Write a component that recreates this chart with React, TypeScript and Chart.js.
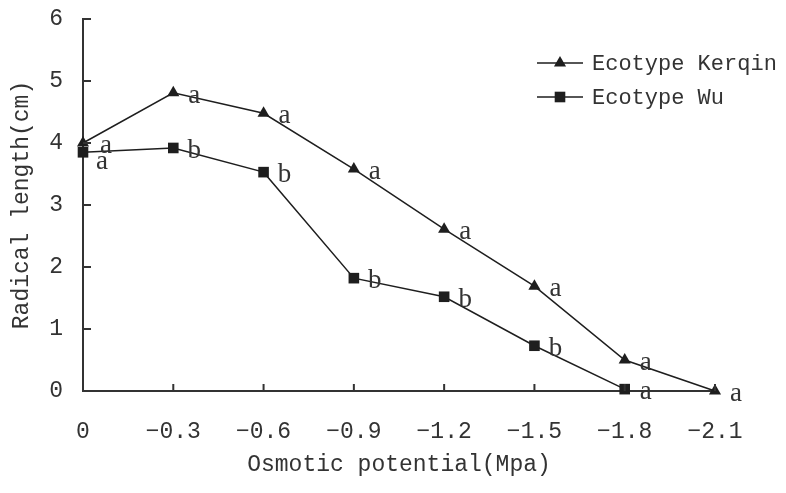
import React, { useEffect, useRef } from "react";
import { Chart, registerables } from "chart.js";

Chart.register(...registerables);

const categories = ["0", "−0.3", "−0.6", "−0.9", "−1.2", "−1.5", "−1.8", "−2.1"];
const kerqinValues = [4.0, 4.81, 4.48, 3.58, 2.61, 1.69, 0.5, 0];
const wuValues: (number | null)[] = [3.85, 3.92, 3.53, 1.82, 1.52, 0.73, 0.03, null];
const kerqinLetters = ["a", "a", "a", "a", "a", "a", "a", "a"];
const wuLetters = ["a", "b", "b", "b", "b", "b", "a", ""];
const seriesNames = ["Ecotype Kerqin", "Ecotype Wu"];
const yTicks = [0, 1, 2, 3, 4, 5, 6];

const INK = "#1e1e1e";
const FONT = "Liberation Mono";
const FS = 23;

const innerTicks = {
  id: "innerTicks",
  afterDraw(chart: any) {
    const { ctx, chartArea } = chart;
    const xs = chart.scales.x;
    const ys = chart.scales.y;
    ctx.save();
    ctx.strokeStyle = "#333";
    ctx.lineWidth = 2;
    ctx.beginPath();
    yTicks.forEach((v) => {
      const y = ys.getPixelForValue(v);
      ctx.moveTo(chartArea.left, y);
      ctx.lineTo(chartArea.left + 8, y);
    });
    categories.forEach((_, i) => {
      const x = xs.getPixelForValue(i);
      ctx.moveTo(x, chartArea.bottom);
      ctx.lineTo(x, chartArea.bottom - 7);
    });
    ctx.stroke();
    ctx.restore();
  },
};

const letterLabels = {
  id: "letterLabels",
  afterDatasetsDraw(chart: any) {
    const { ctx } = chart;
    const sets = [kerqinLetters, wuLetters];
    ctx.save();
    ctx.font = "27px 'Liberation Serif'";
    ctx.fillStyle = "#333";
    ctx.textAlign = "center";
    ctx.textBaseline = "middle";
    sets.forEach((letters, di) => {
      const meta = chart.getDatasetMeta(di);
      letters.forEach((t, j) => {
        const el = meta.data[j];
        if (!t || !el || el.skip) return;
        let dx = 21;
        let dy = 3;
        if (di === 1 && j === 0) {
          dx = 19;
          dy = 10;
        }
        if (j === 0 && di === 0) dx = 23;
        ctx.fillText(t, el.x + dx, el.y + dy);
      });
    });
    ctx.restore();
  },
};

function drawMarker(ctx: CanvasRenderingContext2D, style: string, x: number, y: number, r: number) {
  ctx.beginPath();
  if (style === "triangle") {
    ctx.moveTo(x, y - r);
    ctx.lineTo(x + r * Math.sin(Math.PI / 3), y + r * 0.5);
    ctx.lineTo(x - r * Math.sin(Math.PI / 3), y + r * 0.5);
    ctx.closePath();
  } else {
    const s = r * Math.SQRT1_2;
    ctx.rect(x - s, y - s, 2 * s, 2 * s);
  }
  ctx.fill();
}

const customLegend = {
  id: "customLegend",
  afterDraw(chart: any) {
    const { ctx } = chart;
    const styles = ["triangle", "rect"];
    const radii = [7, 7.5];
    ctx.save();
    seriesNames.forEach((name, i) => {
      const y = 63 + i * 34;
      ctx.strokeStyle = INK;
      ctx.lineWidth = 1.5;
      ctx.beginPath();
      ctx.moveTo(537, y);
      ctx.lineTo(583, y);
      ctx.stroke();
      ctx.fillStyle = INK;
      drawMarker(ctx, styles[i], 560, y, radii[i]);
      ctx.font = `22px '${FONT}'`;
      ctx.fillStyle = "#333";
      ctx.textAlign = "left";
      ctx.textBaseline = "middle";
      ctx.fillText(name, 592, y + 1);
    });
    ctx.restore();
  },
};

export default function App() {
  const ref = useRef<HTMLCanvasElement | null>(null);
  useEffect(() => {
    if (!ref.current) return;
    const chart = new Chart(ref.current, {
      type: "line",
      data: {
        labels: categories,
        datasets: [
          {
            label: seriesNames[0],
            data: kerqinValues,
            borderColor: INK,
            backgroundColor: INK,
            borderWidth: 1.5,
            pointStyle: "triangle",
            pointRadius: 7,
            pointBorderWidth: 0,
            tension: 0,
            clip: false as any,
          },
          {
            label: seriesNames[1],
            data: wuValues,
            borderColor: INK,
            backgroundColor: INK,
            borderWidth: 1.5,
            pointStyle: "rect",
            pointRadius: 7.5,
            pointBorderWidth: 0,
            tension: 0,
            clip: false as any,
          },
        ],
      },
      options: {
        responsive: false,
        animation: false,
        layout: { padding: { top: 19, right: 71, left: 0, bottom: 0 } },
        plugins: {
          legend: { display: false },
          tooltip: { enabled: false },
        },
        scales: {
          x: {
            type: "category",
            offset: false,
            afterFit: (s: any) => {
              s.height = 102;
            },
            grid: { drawOnChartArea: false, drawTicks: false },
            border: { display: true, color: "#333", width: 2 },
            ticks: {
              padding: 27,
              color: "#333",
              font: { family: FONT, size: FS },
              maxRotation: 0,
              autoSkip: false,
            },
            title: {
              display: true,
              text: "Osmotic potential(Mpa)",
              color: "#333",
              font: { family: FONT, size: FS },
              padding: { top: 0, bottom: 14 },
            },
          },
          y: {
            min: 0,
            max: 6,
            afterFit: (s: any) => {
              s.width = 83;
              s.paddingTop = 0;
              s.paddingBottom = 0;
            },
            grid: { drawOnChartArea: false, drawTicks: false },
            border: { display: true, color: "#333", width: 2 },
            ticks: {
              stepSize: 1,
              padding: 20,
              color: "#333",
              font: { family: FONT, size: FS },
            },
            title: {
              display: true,
              text: "Radical length(cm)",
              color: "#333",
              font: { family: FONT, size: FS },
              padding: { top: 8, bottom: 0 },
            },
          },
        },
      },
      plugins: [innerTicks, letterLabels, customLegend],
    });
    return () => chart.destroy();
  }, []);
  return (
    <canvas
      ref={ref}
      width={786}
      height={493}
      style={{ position: "absolute", left: 0, top: 0, background: "#fff" }}
    />
  );
}
